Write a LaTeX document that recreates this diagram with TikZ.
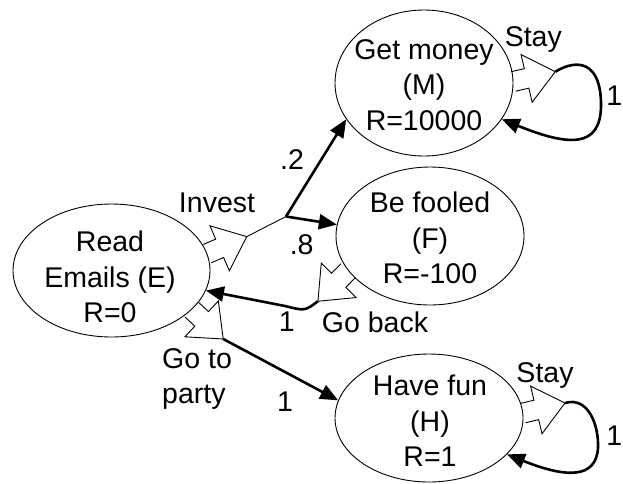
\documentclass[tikz,border=0pt]{standalone}
\usepackage{fontspec}
\setmainfont{Liberation Sans}
\usetikzlibrary{arrows.meta,shapes.geometric}

\begin{document}
\begin{tikzpicture}
[x=1pt,y=-1pt,
 state/.style={draw,ellipse,line width=0.9pt},
 lbl/.style={inner sep=0pt,font=\fontsize{28.5}{35.5}\selectfont},
 act/.style={line width=0.9pt},
 trans/.style={line width=2.6pt,-{Triangle[length=18pt,width=15pt]}}]
\useasboundingbox (0,0) rectangle (623,483);

\node[state,minimum width=197pt,minimum height=133pt] (E) at (111.5,270.5) {};
\node[state,minimum width=178pt,minimum height=146pt] (M) at (424,83) {};
\node[state,minimum width=188pt,minimum height=138pt] (F) at (430,236) {};
\node[state,minimum width=188pt,minimum height=128pt] (H) at (429,418) {};

\node[lbl,align=center] (Et) at (110,277) {Read\\Emails (E)\\R=0};
\node[lbl,align=center] (Mt) at (424,85) {Get money\\(M)\\R=10000};
\node[lbl,align=center] (Ft) at (430,238) {Be fooled\\(F)\\R=-100};
\node[lbl,align=center] (Ht) at (430,421) {Have fun\\(H)\\R=1};

% actions
\foreach \st/\dir/\tp in {E.10/23.3/tipI, E.-26/-43/tipP, F.203/225.2/tipB, M.1/13.1/tipM, H.3/13.5/tipH}{
\begin{scope}[shift={(\st)},rotate=\dir]
\draw[act] (0,10) -- (13.5,10) -- (13.5,24.5) -- (43,0) -- (13.5,-24.5) -- (13.5,-10) -- (0,-10);
\coordinate (\tp) at (43,0);
\end{scope}
}

\coordinate (br) at (286,216.5);
\draw[act] (tipI) -- (br);
\draw[trans] (br) -- (M.205);
\draw[trans] (br) -- (F.173);
\draw[trans] (tipB) .. controls (305,311) .. (285,306) -- (E.-12);
\draw[trans] (tipP) -- (H.169);
\draw[trans] (tipM) .. controls (578,58) and (601,62) .. (601,105) .. controls (601,149) and (568,146) .. (M.-25);
\draw[trans] (tipH) .. controls (588,396) and (599,425) .. (598,448) .. controls (596,479) and (566,478) .. (H.-25);

\node[lbl] (lInv) at (217,203) {Invest};
\node[lbl] (lTwo) at (292,160) {.2};
\node[lbl] (lEight) at (301.7,245) {.8};
\node[lbl] (lBack) at (375,322) {Go back};
\node[lbl] (lBackP) at (286.7,321.7) {1};
\node[lbl,align=left,anchor=west] (lParty) at (162,379) {Go to\\party};
\node[lbl] (lPartyP) at (285,401.7) {1};
\node[lbl] (lStayM) at (533.3,40) {Stay};
\node[lbl] (lStayH) at (545,375) {Stay};
\node[lbl,anchor=east] (lStayMP) at (622.5,96) {1};
\node[lbl,anchor=east] (lStayHP) at (622.5,436) {1};
\end{tikzpicture}
\end{document}
